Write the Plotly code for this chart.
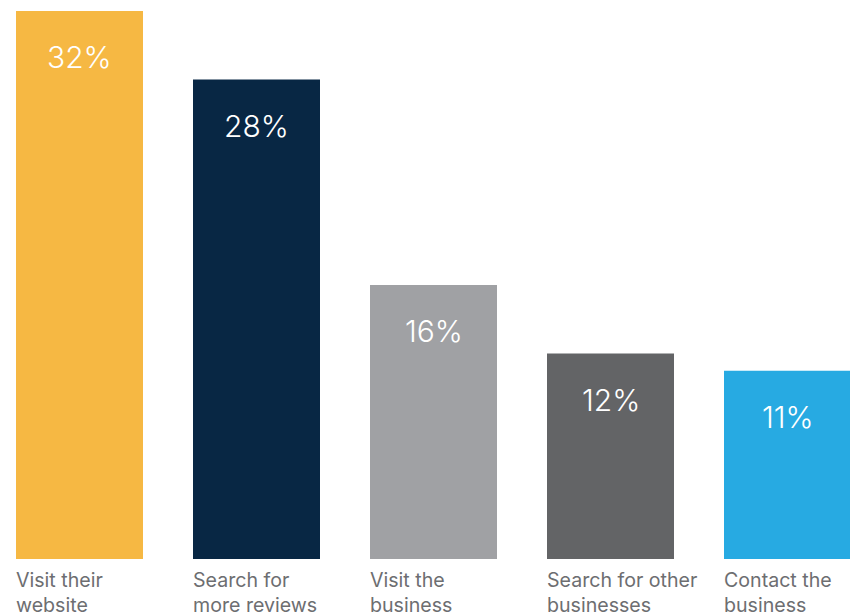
import plotly.graph_objects as go

categories = ["Visit their<br>website", "Search for<br>more reviews", "Visit the<br>business",
              "Search for other<br>businesses", "Contact the<br>business"]
values = [32, 28, 16, 12, 11]
value_labels = ["32%", "28%", "16%", "12%", "11%"]
colors = ["#F6B843", "#082744", "#A0A1A4", "#636466", "#27AAE2"]

xs = list(range(len(values)))
bar_w = 127 / 177

fig = go.Figure(go.Bar(x=xs, y=values, width=bar_w, marker=dict(color=colors, line=dict(width=0)),
                       hoverinfo="skip"))

annotations = []
for i, (v, lab) in enumerate(zip(values, value_labels)):
    annotations.append(dict(x=i, y=v, xref="x", yref="y", text=lab, showarrow=False,
                            xanchor="center", yanchor="middle", yshift=-46,
                            font=dict(family="Inter", size=30, color="white", weight=300)))
    annotations.append(dict(x=i - bar_w / 2, y=0, xref="x", yref="y", text=categories[i],
                            showarrow=False, xanchor="left", yanchor="top", yshift=-7, align="left",
                            xshift=-2,
                            font=dict(family="Inter", size=19.6, color="#6D6E71")))

fig.update_layout(
    width=850, height=615,
    margin=dict(l=0, r=0, t=0, b=56),
    paper_bgcolor="white", plot_bgcolor="white",
    showlegend=False,
    xaxis=dict(range=[-79.5 / 177, -79.5 / 177 + 850 / 177], visible=False, fixedrange=True),
    yaxis=dict(range=[0, 559 / (548 / 32)], visible=False, fixedrange=True),
    annotations=annotations,
)
fig.write_html("out.html", config={"displayModeBar": False})
